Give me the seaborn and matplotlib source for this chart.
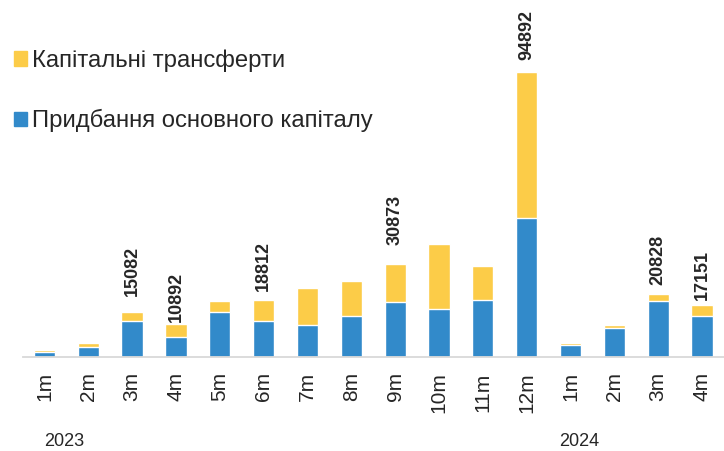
import numpy as np
import pandas as pd
import seaborn as sns
import matplotlib.pyplot as plt
import matplotlib.transforms as mtransforms
from matplotlib.patches import Patch

# monthly data, 2023-01 .. 2024-04
months = ["1m", "2m", "3m", "4m", "5m", "6m", "7m", "8m", "9m", "10m", "11m", "12m",
          "1m", "2m", "3m", "4m"]
years = ["2023"] * 12 + ["2024"] * 4
fixed_capital = [1760, 3420, 11970, 6650, 14960, 11970, 10640, 13630, 18290, 16060,
                 18950, 46220, 4090, 9740, 18620, 13530]
capital_transfers = [570, 1130, 3112, 4242, 3660, 6842, 12300, 11740, 12583, 21510,
                     11310, 48672, 460, 900, 2208, 3621]
show_total = [False, False, True, True, False, True, False, False, True, False,
              False, True, False, False, True, True]
label_gap = [0, 0, 11, 1.5, 0, 7, 0, 0, 14, 0, 0, 8, 0, 0, 7, 4]

YELLOW = "#FCCC48"
BLUE = "#328ACA"

df = pd.DataFrame({
    "key": [f"{y}-{m}" for y, m in zip(years, months)],
    "fixed": fixed_capital,
    "transfers": capital_transfers,
})
df["total"] = df["fixed"] + df["transfers"]

sns.set_style("white")
plt.rcParams["font.family"] = ["Liberation Sans", "DejaVu Sans"]

fig = plt.figure(figsize=(7.24, 4.51), dpi=100)
ax = fig.add_axes([22.5 / 724, 94 / 451, 701.5 / 724, 357 / 451])

sns.barplot(data=df, x="key", y="total", color=YELLOW, saturation=1,
            width=0.485, ax=ax)
sns.barplot(data=df, x="key", y="fixed", color=BLUE, saturation=1,
            width=0.485, ax=ax)

for i, row in df.iterrows():
    if show_total[i]:
        ax.annotate(f"{row['total']}", (i, row["total"]),
                    xytext=(0, label_gap[i]), textcoords="offset points",
                    rotation=90, ha="center", va="bottom",
                    fontsize=13, fontweight="bold")

ax.set_xlim(-0.5, -0.5 + 701.5 / 44.3)
ax.set_ylim(0, 118700)
ax.set_xlabel("")
ax.set_ylabel("")
ax.set_yticks([])
ax.set_xticks(range(len(months)))
ax.set_xticklabels(months, rotation=90)
ax.set_xticks(np.arange(-0.5, len(months), 1), minor=True)
ax.tick_params(axis="x", which="major", length=0, pad=11, labelsize=15)
ax.tick_params(axis="x", which="minor", length=7, width=1.3, color="#d9d9d9")
for side in ["top", "left", "right"]:
    ax.spines[side].set_visible(False)
ax.spines["bottom"].set_color("#d9d9d9")
ax.spines["bottom"].set_linewidth(1.3)

# year captions under the month labels
trans = mtransforms.blended_transform_factory(ax.transData, fig.transFigure)
ax.text(0.44, 0.022, "2023", transform=trans, ha="center", va="center", fontsize=13)
ax.text(12.2, 0.022, "2024", transform=trans, ha="center", va="center", fontsize=13)

handles = [Patch(color=YELLOW, label="Капітальні трансферти"),
           Patch(color=BLUE, label="Придбання основного капіталу")]
fig.legend(handles=handles, loc="upper left", bbox_to_anchor=(14 / 724, 0.89),
           frameon=False, fontsize=17.2, handlelength=0.55, handleheight=0.55,
           handletextpad=0.21, labelspacing=1.55, borderpad=0, borderaxespad=0)

fig.savefig("out.png", dpi=100)
